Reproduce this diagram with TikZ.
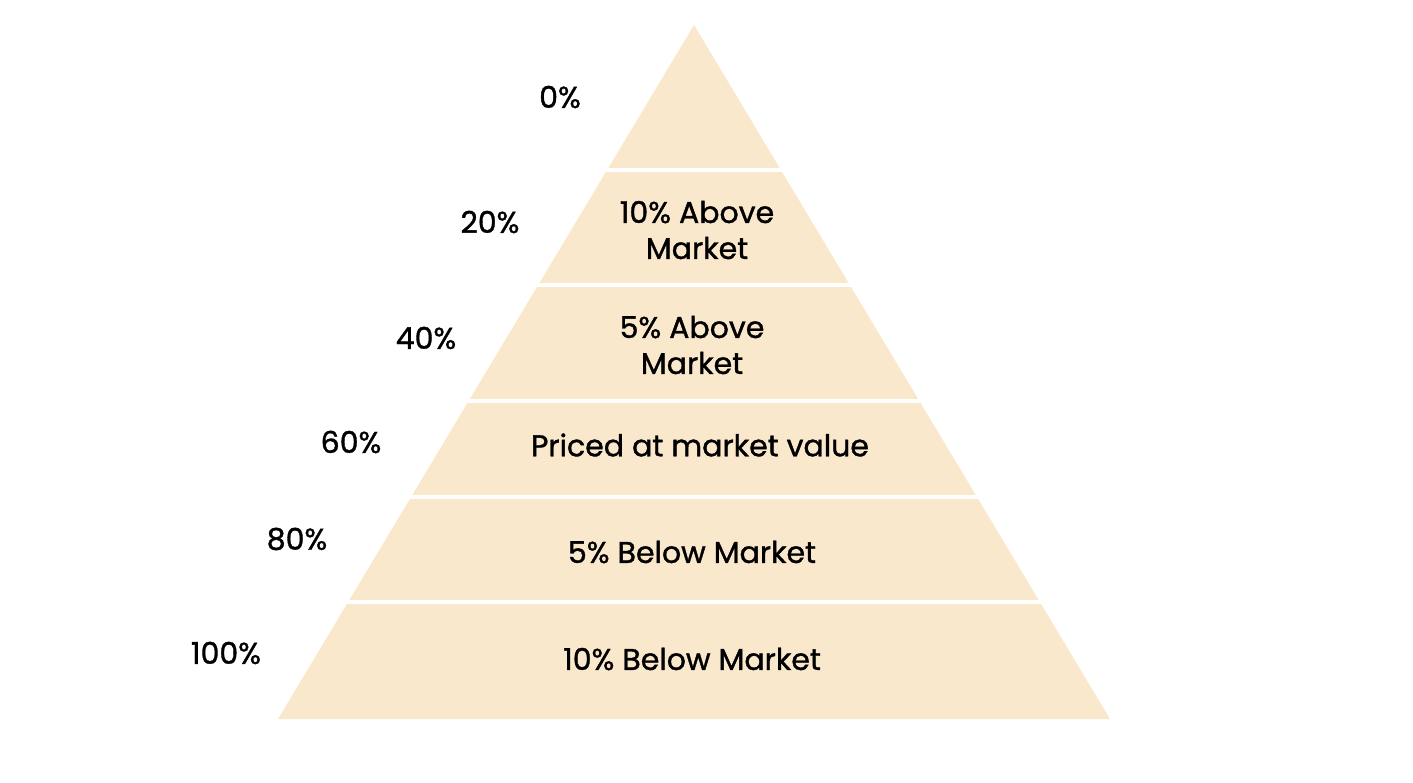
\documentclass[tikz,border=0pt]{standalone}
\usepackage{fontspec}
\setmainfont{Poppins}[FakeBold=1.2]
\usetikzlibrary{positioning}
\definecolor{sand}{HTML}{FAE8CC}
\tikzset{
  tier/.style={font=\fontsize{30}{36}\selectfont, align=center, inner sep=0pt},
  pct/.style={font=\fontsize{30}{36}\selectfont, inner sep=0pt},
}
\begin{document}
\begin{tikzpicture}[x=1pt,y=-1pt]
\useasboundingbox (0,0) rectangle (1413,783);
% pyramid and the white gaps between tiers
\fill[sand] (694,25) -- (1110,719) -- (278,719) -- cycle;
\foreach \y in {170,285.5,401,496.5,602}
  \draw[white, line width=4pt] (250,\y) -- (1150,\y);

% tier texts
\node[tier] (t1) at (697,230) {10\% Above\\Market};
\node[tier] (t2) at (692,345) {5\% Above\\Market};
\node[tier] (t3) at (700,445) {Priced at market value};
\node[tier] (t4) at (692,552) {5\% Below Market};
\node[tier] (t5) at (692,659) {10\% Below Market};

% percentages
\node[pct] (p0) at (560,97) {0\%};
\node[pct] (p20) at (490,222) {20\%};
\node[pct] (p40) at (426,338) {40\%};
\node[pct] (p60) at (351,442) {60\%};
\node[pct] (p80) at (297,539) {80\%};
\node[pct] (p100) at (226,653) {100\%};
\end{tikzpicture}
\end{document}
